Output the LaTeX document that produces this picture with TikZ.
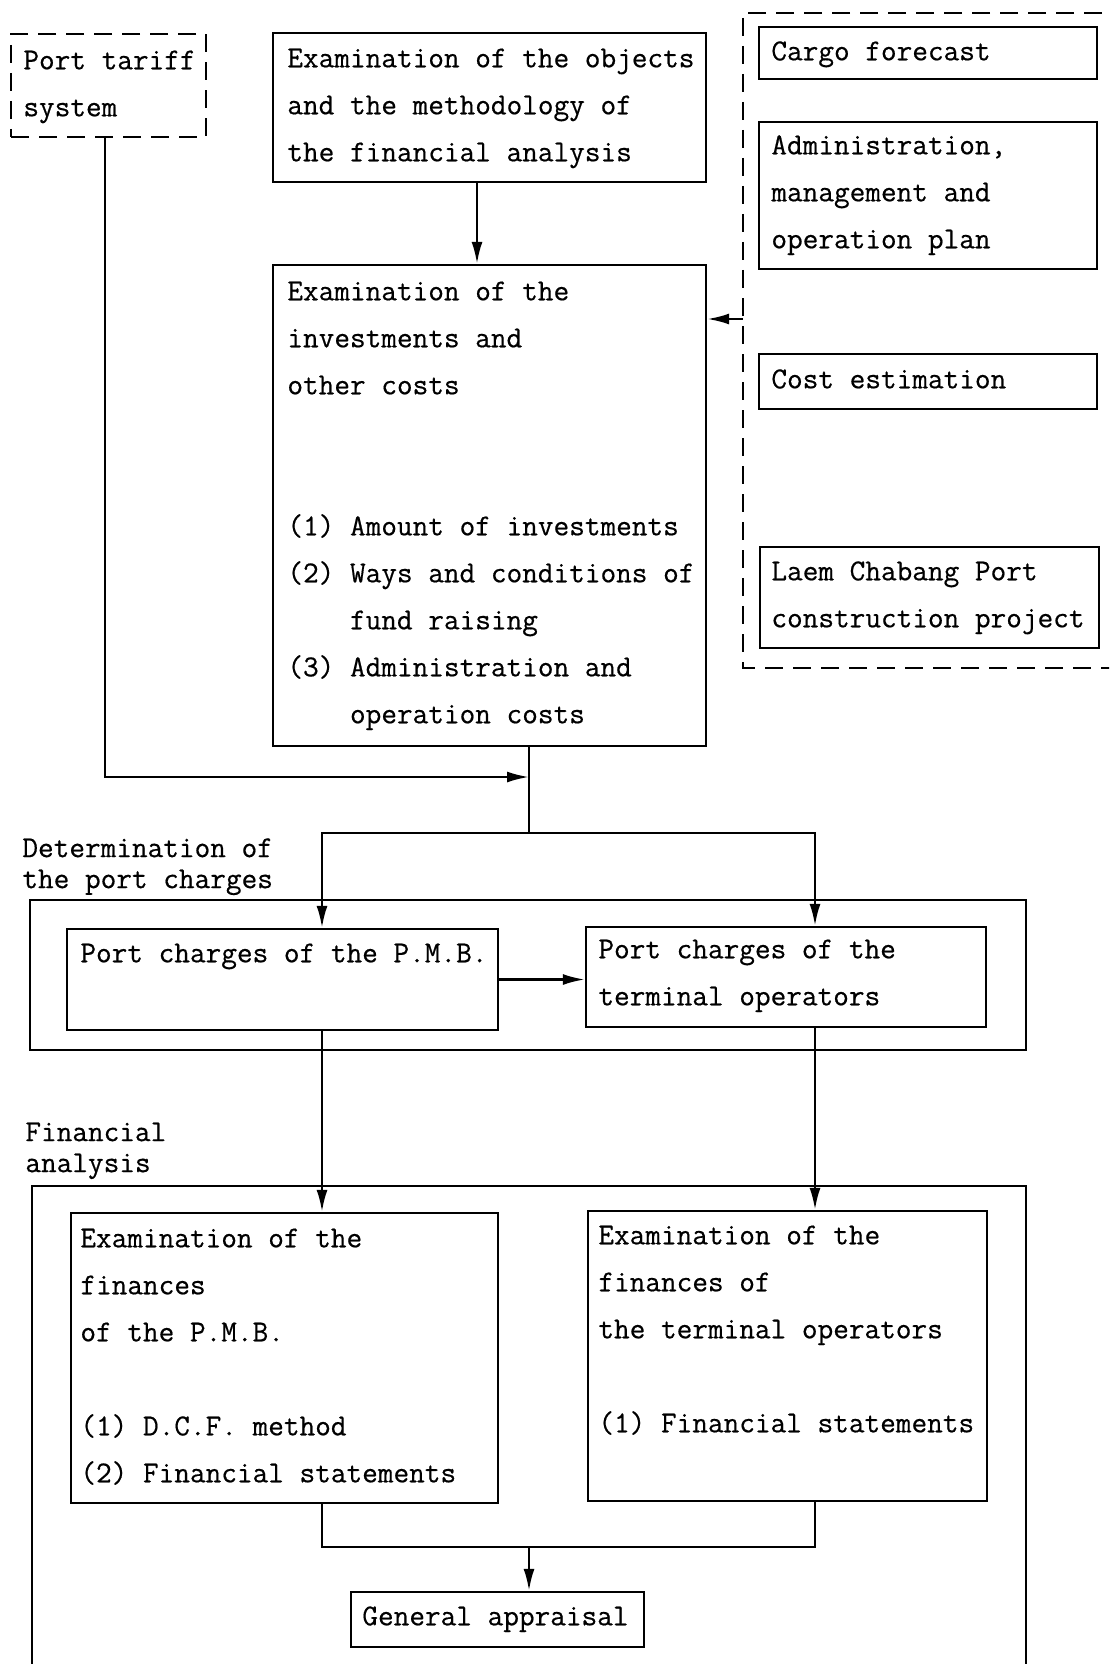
\documentclass[tikz,border=0pt]{standalone}
\usepackage{fontspec}
\setmonofont{Latin Modern Mono}[FakeBold=0.5]
\usetikzlibrary{fit,arrows.meta}
\begin{document}
\begin{tikzpicture}[x=0.5pt,y=-0.5pt,
  box/.style={draw, line width=1.2pt, inner sep=0pt, rectangle},
  dbox/.style={box, dash pattern=on 9pt off 5pt},
  txt/.style={font=\ttfamily\fontsize{15.2}{23.5}\selectfont, align=left, inner sep=0pt, anchor=north west},
  lbl/.style={font=\ttfamily\fontsize{15.2}{15.5}\selectfont, align=left, inner sep=0pt, anchor=north west},
  con/.style={line width=1.2pt},
  arr/.style={con, -{Latex[length=11pt,width=5.5pt]}},
]
\useasboundingbox (0,0) rectangle (1109,1664);
\clip (0,0) rectangle (1109,1664);
\fill[white] (0,0) rectangle (1109,1664);

% top boxes
\node[dbox, fit={(11,34) (206,137)}] (tariff) {};
\node[txt] (tariffT) at (23,36) {\strut Port tariff\\\strut system};

\node[box, fit={(273,33) (706,182)}] (obj) {};
\node[txt] (objT) at (287,34) {\strut Examination of the objects\\\strut and the methodology of\\\strut the financial analysis};

\node[box, fit={(273,265) (706,746)}] (inv) {};
\node[txt] (invT) at (287,267) {\strut Examination of the\\\strut investments and\\\strut other costs\\\strut\\\strut\\
\strut(1) Amount of investments\\\strut(2) Ways and conditions of\\\strut\phantom{(2)~}fund raising\\
\strut(3) Administration and\\\strut\phantom{(3)~}operation costs};

% dashed group on the right
\draw[con, dash pattern=on 9pt off 5pt] (1130,13) -- (743,13) -- (743,668) -- (1130,668);
\coordinate (dashL) at (743,319);

\node[box, fit={(759,27) (1097,79)}] (cargo) {};
\node[txt] (cargoT) at (771,27) {\strut Cargo forecast};
\node[box, fit={(759,122) (1097,269)}] (admin) {};
\node[txt] (adminT) at (771,121) {\strut Administration,\\\strut management and\\\strut operation plan};
\node[box, fit={(759,354) (1097,409)}] (cost) {};
\node[txt] (costT) at (771,355) {\strut Cost estimation};
\node[box, fit={(760,547) (1099,648)}] (laem) {};
\node[txt] (laemT) at (771,547) {\strut Laem Chabang Port\\\strut construction project};

% determination of the port charges
\node[lbl] (detL) at (22,835) {\strut Determination of\\\strut the port charges};
\node[box, fit={(30,900) (1026,1050)}] (detG) {};
\node[box, fit={(67,929) (498,1030)}] (pmb) {};
\node[txt] (pmbT) at (80,929) {\strut Port charges of the P.M.B.};
\node[box, fit={(586,927) (986,1027)}] (term) {};
\node[txt] (termT) at (598,925) {\strut Port charges of the\\\strut terminal operators};

% financial analysis
\node[lbl] (faL) at (25,1119) {\strut Financial\\\strut analysis};
\draw[con] (32,1680) -- (32,1186) -- (1026,1186) -- (1026,1680);
\node[box, fit={(71,1213) (498,1503)}] (pmbfin) {};
\node[txt] (pmbfinT) at (80,1214) {\strut Examination of the\\\strut finances\\\strut of the P.M.B.\\\strut\\\strut(1) D.C.F. method\\\strut(2) Financial statements};
\node[box, fit={(588,1211) (987,1501)}] (termfin) {};
\node[txt] (termfinT) at (598,1211) {\strut Examination of the\\\strut finances of\\\strut the terminal operators\\\strut\\\strut(1) Financial statements};
\node[box, fit={(351,1592) (644,1647)}] (gen) {};
\node[txt] (genT) at (362,1592) {\strut General appraisal};

% junction coordinates
\coordinate (xa) at (477,0);
\coordinate (tj) at (105,777);
\coordinate (ja) at (529,777);
\coordinate (split) at (529,833);
\coordinate (sl) at (322,833);
\coordinate (sr) at (815,833);
\coordinate (jb) at (529,1547);

% connectors
\draw[arr] (obj.south -| xa) -- (inv.north -| xa);
\draw[arr] (dashL) -- (dashL -| inv.east);
\draw[arr] (tariff.south -| tj) -- (tj) -- (ja);
\draw[con] (inv.south -| ja) -- (split);
\draw[arr] (split) -- (sl) -- (sl |- pmb.north);
\draw[arr] (split) -- (sr) -- (sr |- term.north);
\draw[arr] (pmb.east) -- (term.west |- pmb.east);
\draw[arr] (sl |- pmb.south) -- (sl |- pmbfin.north);
\draw[arr] (sr |- term.south) -- (sr |- termfin.north);
\draw[con] (sl |- pmbfin.south) -- (sl |- jb) -- (sr |- jb) -- (sr |- termfin.south);
\draw[arr] (jb) -- (jb |- gen.north);
\end{tikzpicture}
\end{document}
